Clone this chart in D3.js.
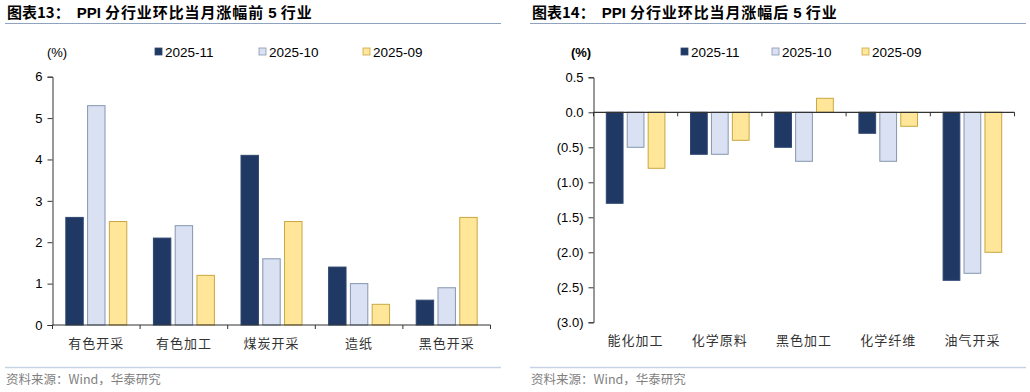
<!DOCTYPE html>
<html><head><meta charset="utf-8">
<script src="https://cdn.jsdelivr.net/npm/d3@7"></script>
<style>
body{margin:0;background:#fff;}
svg{display:block;}
</style></head>
<body>
<svg id="c" width="1030" height="392"></svg>
<script>
const series = ["2025-11", "2025-10", "2025-09"];
const leftCategories = ["有色开采", "有色加工", "煤炭开采", "造纸", "黑色开采"];
const left2025_11 = [2.6, 2.1, 4.1, 1.4, 0.6];
const left2025_10 = [5.3, 2.4, 1.6, 1.0, 0.9];
const left2025_09 = [2.5, 1.2, 2.5, 0.5, 2.6];
const leftTicks = [0, 1, 2, 3, 4, 5, 6];
const rightCategories = ["能化加工", "化学原料", "黑色加工", "化学纤维", "油气开采"];
const right2025_11 = [-1.3, -0.6, -0.5, -0.3, -2.4];
const right2025_10 = [-0.5, -0.6, -0.7, -0.7, -2.3];
const right2025_09 = [-0.8, -0.4, 0.2, -0.2, -2.0];
const rightTicks = [0.5, 0.0, -0.5, -1.0, -1.5, -2.0, -2.5, -3.0];

const fills = ["#1f3864", "#dae1f3", "#ffe699"];
const strokes = ["#2f4670", "#8496b0", "#c9a640"];

const svg = d3.select("#c");
const sansLat = "'Liberation Sans', Arial, sans-serif";
const cjk = "'Noto Sans CJK SC', sans-serif";

function drawChart(o) {
  const g = svg.append("g");
  // title
  const t = g.append("text").attr("x", o.titleX).attr("y", 18)
    .attr("font-size", 15).attr("font-weight", "bold").attr("fill", "#000");
  t.append("tspan").attr("font-family", cjk).text(o.titleA);
  t.append("tspan").attr("font-family", sansLat).attr("dx", 7).text("PPI ");
  t.append("tspan").attr("font-family", cjk).attr("letter-spacing", 0.9).text(o.titleB);
  t.append("tspan").attr("font-family", sansLat).text(" 5 ");
  t.append("tspan").attr("font-family", cjk).attr("letter-spacing", 0.9).text("行业");
  g.append("line").attr("x1", o.titleX - 2).attr("x2", o.titleX + 494)
    .attr("y1", 23.5).attr("y2", 23.5).attr("stroke", "#8ea3bf").attr("stroke-width", 1);
  // bottom line and source
  g.append("line").attr("x1", o.titleX - 2).attr("x2", o.titleX + 494)
    .attr("y1", 367.5).attr("y2", 367.5).attr("stroke", "#c5d3e3").attr("stroke-width", 1.5);
  g.append("text").attr("x", o.titleX - 1).attr("y", 384).attr("font-size", 12.5)
    .attr("fill", "#7f7f7f").attr("font-family", cjk).text("资料来源：Wind，华泰研究");

  // unit
  g.append("text").attr("x", o.unitX).attr("y", 57).attr("text-anchor", "middle")
    .attr("font-size", 13).attr("font-family", sansLat)
    .attr("font-weight", o.unitBold ? "bold" : "normal").text("(%)");

  // legend
  series.forEach((s, i) => {
    g.append("rect").attr("x", o.legendX[i]).attr("y", 48).attr("width", 7).attr("height", 7)
      .attr("fill", fills[i]).attr("stroke", strokes[i]).attr("stroke-width", 0.8);
    g.append("text").attr("x", o.legendX[i] + 10).attr("y", 57).attr("font-size", 13.5)
      .attr("font-family", sansLat).text(s);
  });

  const x0 = d3.scaleBand().domain(o.categories).range([o.x0, o.x1]).padding(0);
  const bw = x0.bandwidth();
  const x1 = d3.scaleBand().domain(series).range([bw * 0.152, bw * 0.848]).paddingInner(0.2);
  const y = d3.scaleLinear().domain(o.domain).range([o.yBottom, o.yTop]);

  // bars
  const vals = o.values;
  o.categories.forEach((c, ci) => {
    series.forEach((s, si) => {
      const v = vals[si][ci];
      g.append("rect")
        .attr("x", x0(c) + x1(s))
        .attr("width", x1.bandwidth())
        .attr("y", y(Math.max(0, v)))
        .attr("height", Math.abs(y(v) - y(0)))
        .attr("fill", fills[si]).attr("stroke", strokes[si]).attr("stroke-width", 1);
    });
  });

  // y axis
  const yAxis = d3.axisLeft(y).tickValues(o.ticks).tickSize(5).tickPadding(5)
    .tickFormat(o.fmt);
  const ya = g.append("g").attr("transform", `translate(${o.x0},0)`).call(yAxis);
  ya.selectAll("text").attr("font-size", 13).attr("font-family", sansLat).attr("fill", "#000");
  ya.selectAll("line,path").attr("stroke", "#333");

  // x axis at zero
  const xa = g.append("g").attr("transform", `translate(0,${y(0)})`);
  xa.append("line").attr("x1", o.x0).attr("x2", o.x1).attr("stroke", "#333").attr("stroke-width", 1.2);
  const bounds = o.categories.map(c => x0(c)).concat([o.x1]);
  bounds.forEach(b => {
    xa.append("line").attr("x1", b).attr("x2", b).attr("y1", 0).attr("y2", 4)
      .attr("stroke", "#333");
  });
  // category labels
  o.categories.forEach(c => {
    g.append("text").attr("x", x0(c) + bw / 2).attr("y", o.labelY)
      .attr("text-anchor", "middle").attr("font-size", 13).attr("letter-spacing", 1)
      .attr("font-family", cjk).attr("fill", "#333").text(c);
  });
}

drawChart({
  titleX: 7, titleA: "图表13：", titleB: "分行业环比当月涨幅前",
  unitX: 57, unitBold: false, legendX: [155, 259, 363],
  categories: leftCategories, values: [left2025_11, left2025_10, left2025_09],
  x0: 52.5, x1: 490.5, yTop: 76.7, yBottom: 325, domain: [0, 6], ticks: leftTicks,
  fmt: d3.format("d"), labelY: 348
});

const negFmt = v => {
  const s = Math.abs(v).toFixed(1);
  return v < 0 ? "(" + s + ")" : s;
};
drawChart({
  titleX: 532, titleA: "图表14：", titleB: "分行业环比当月涨幅后",
  unitX: 581, unitBold: true, legendX: [681, 772, 862],
  categories: rightCategories, values: [right2025_11, right2025_10, right2025_09],
  x0: 593.5, x1: 1014.5, yTop: 77.3, yBottom: 322.3, domain: [-3.0, 0.5], ticks: rightTicks,
  fmt: negFmt, labelY: 345
});
</script>
</body></html>
